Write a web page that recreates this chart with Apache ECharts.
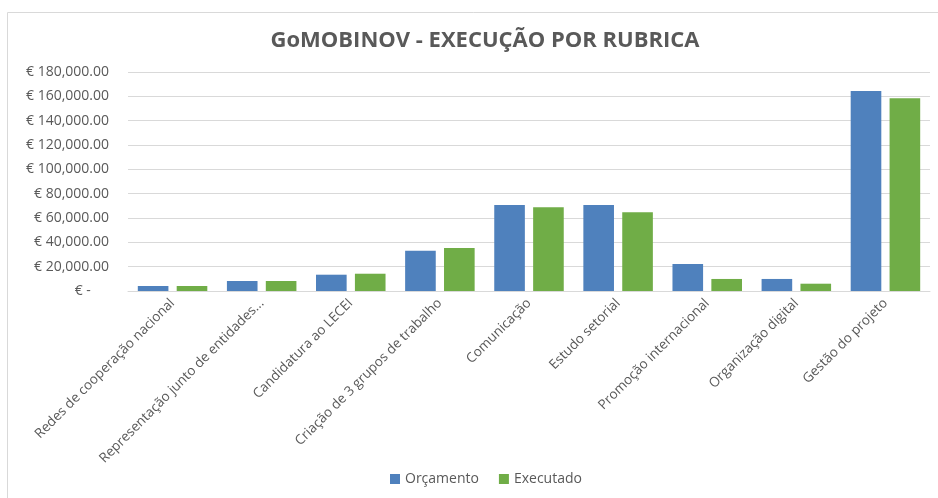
<!DOCTYPE html>
<html><head><meta charset="utf-8">
<script src="https://cdn.jsdelivr.net/npm/echarts@6/dist/echarts.min.js"></script>
<style>html,body{margin:0;padding:0;background:#fff}#c{width:938px;height:498px}</style>
</head><body><div id="c"></div>
<script>
var categories = ["Redes de cooperação nacional","Representação junto de entidades...","Candidatura ao LECEI","Criação de 3 grupos de trabalho","Comunicação","Estudo setorial","Promoção internacional","Organização digital","Gestão do projeto"];
var orcamento = [4100, 8200, 13400, 33100, 70600, 70600, 22200, 9900, 164400];
var executado = [4100, 8200, 14200, 35300, 68900, 64800, 9900, 6000, 158400];
var yTicks = [0, 20000, 40000, 60000, 80000, 100000, 120000, 140000, 160000, 180000];

var chart = echarts.init(document.getElementById('c'), null, {renderer:'canvas'});
var font = '"Open Sans", "Liberation Sans", sans-serif';
function fmt(v){
  if (v === 0) return '€ -     ';
  return '€ ' + v.toLocaleString('en-US') + '.00';
}
chart.setOption({
  animation:false,
  graphic:[{type:'rect', shape:{x:7.5,y:12.5,width:940,height:500}, style:{fill:'none', stroke:'#d9d9d9', lineWidth:1}, silent:true}],
  title:{text:'GoMOBINOV - EXECUÇÃO POR RUBRICA', left:480, textAlign:'center', top:25,
    textStyle:{fontFamily:font, fontSize:22, fontWeight:'bold', color:'#595959'}},
  legend:{data:['Orçamento','Executado'], bottom:7, left:385, itemWidth:10, itemHeight:10, itemGap:20,
    icon:'rect', textStyle:{fontFamily:font, fontSize:14, color:'#595959'}},
  grid:{left:128, right:8, top:72, bottom:207, containLabel:false},
  xAxis:{type:'category', data:categories,
    axisLine:{lineStyle:{color:'#d9d9d9'}}, axisTick:{show:false},
    axisLabel:{rotate:45, interval:0, fontFamily:font, fontSize:13.5, color:'#595959', margin:10}},
  yAxis:{type:'value', min:yTicks[0], max:yTicks[yTicks.length-1], interval:20000,
    axisLine:{show:false}, axisTick:{show:false},
    splitLine:{lineStyle:{color:'#d9d9d9'}},
    axisLabel:{formatter:fmt, fontFamily:font, fontSize:14, color:'#595959', margin:19}},
  series:[
    {name:'Orçamento', type:'bar', data:orcamento, barGap:'27%', barCategoryGap:'22%',
     itemStyle:{color:'#4f81bd'}},
    {name:'Executado', type:'bar', data:executado,
     itemStyle:{color:'#70ad47'}}
  ]
});
</script></body></html>
